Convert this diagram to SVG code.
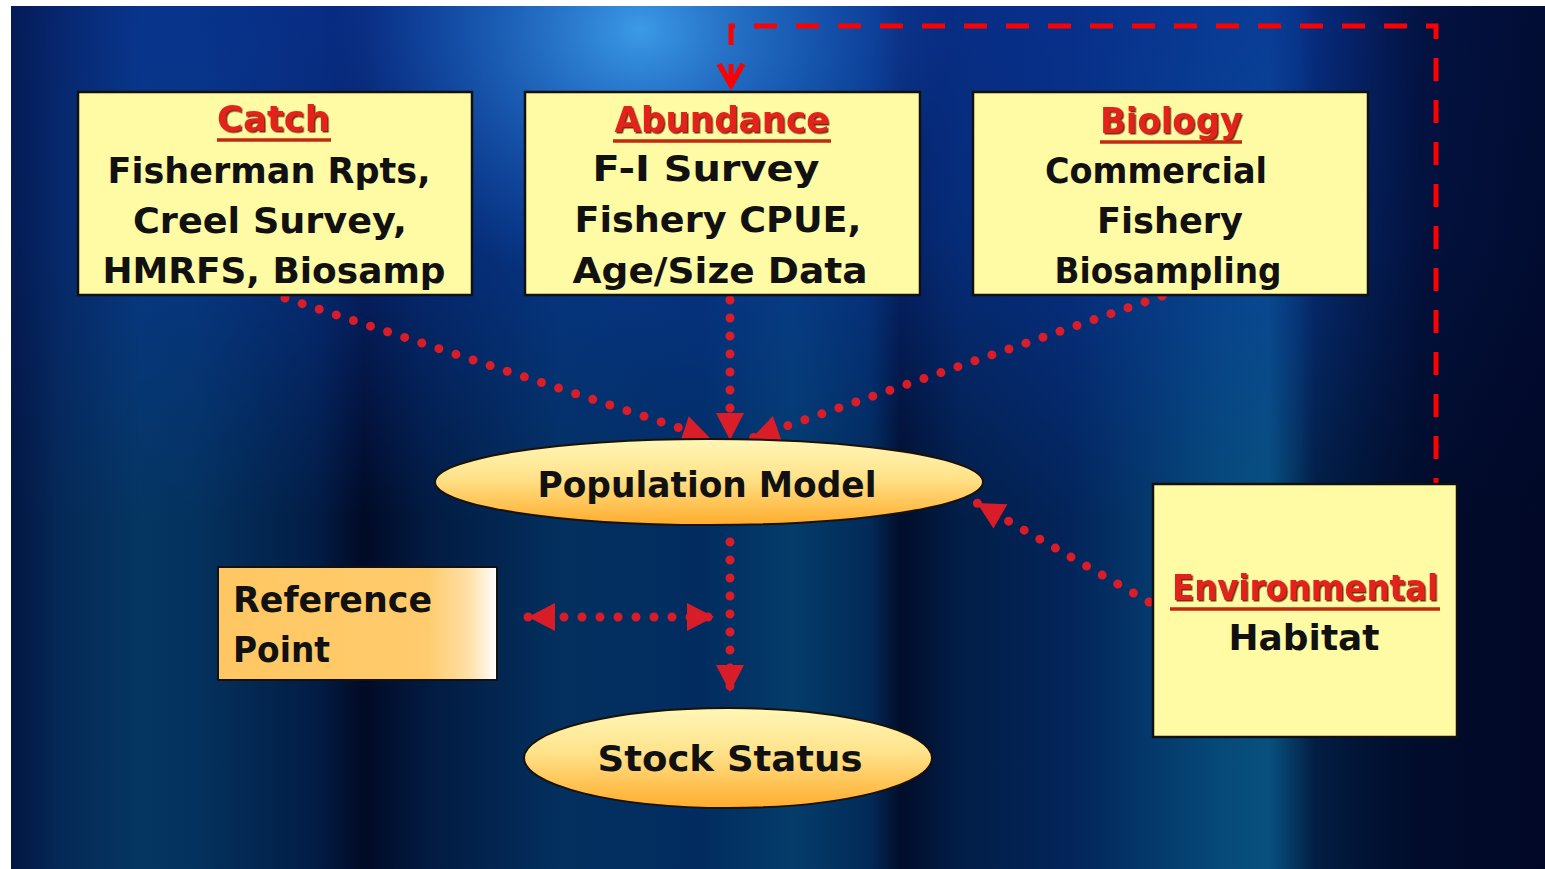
<svg xmlns="http://www.w3.org/2000/svg" width="1545" height="869" viewBox="0 0 1545 869">
  <defs>
    <linearGradient id="bgStripes" x1="11" y1="0" x2="1545" y2="0" gradientUnits="userSpaceOnUse">
      <stop offset="0" stop-color="#02244a"/>
      <stop offset="0.03" stop-color="#063a66"/>
      <stop offset="0.12" stop-color="#04325e"/>
      <stop offset="0.2" stop-color="#021c44"/>
      <stop offset="0.23" stop-color="#010a26"/>
      <stop offset="0.27" stop-color="#021a40"/>
      <stop offset="0.36" stop-color="#03305f"/>
      <stop offset="0.45" stop-color="#022c60"/>
      <stop offset="0.51" stop-color="#043c6a"/>
      <stop offset="0.56" stop-color="#022a58"/>
      <stop offset="0.58" stop-color="#010d2a"/>
      <stop offset="0.62" stop-color="#021e48"/>
      <stop offset="0.69" stop-color="#03245a"/>
      <stop offset="0.79" stop-color="#064a7a"/>
      <stop offset="0.82" stop-color="#08507e"/>
      <stop offset="0.85" stop-color="#022046"/>
      <stop offset="0.9" stop-color="#021838"/>
      <stop offset="1" stop-color="#010a25"/>
    </linearGradient>
    <linearGradient id="bgTop" x1="0" y1="6" x2="0" y2="520" gradientUnits="userSpaceOnUse">
      <stop offset="0" stop-color="#0a34a0" stop-opacity="0.7"/>
      <stop offset="0.45" stop-color="#0a3aa8" stop-opacity="0.5"/>
      <stop offset="1" stop-color="#0a3aa8" stop-opacity="0"/>
    </linearGradient>
    <linearGradient id="bgRightDark" x1="1300" y1="0" x2="1545" y2="0" gradientUnits="userSpaceOnUse">
      <stop offset="0" stop-color="#010828" stop-opacity="0"/>
      <stop offset="0.5" stop-color="#010828" stop-opacity="0.7"/>
      <stop offset="1" stop-color="#010828" stop-opacity="0.85"/>
    </linearGradient>
    <linearGradient id="bgLeftDark" x1="11" y1="0" x2="140" y2="0" gradientUnits="userSpaceOnUse">
      <stop offset="0" stop-color="#041040" stop-opacity="0.65"/>
      <stop offset="1" stop-color="#041040" stop-opacity="0"/>
    </linearGradient>
    <radialGradient id="glow" cx="640" cy="30" r="260" gradientTransform="translate(640 30) scale(1.2 1) translate(-640 -30)" gradientUnits="userSpaceOnUse">
      <stop offset="0" stop-color="#3fa0ec" stop-opacity="0.95"/>
      <stop offset="0.5" stop-color="#2a80d8" stop-opacity="0.5"/>
      <stop offset="1" stop-color="#1a60c8" stop-opacity="0"/>
    </radialGradient>
    <linearGradient id="ellFill" x1="0" y1="0" x2="0" y2="1">
      <stop offset="0" stop-color="#fff7b8"/>
      <stop offset="0.45" stop-color="#ffe28a"/>
      <stop offset="1" stop-color="#ffac2c"/>
    </linearGradient>
    <linearGradient id="refFill" x1="0" y1="0" x2="1" y2="0">
      <stop offset="0" stop-color="#ffc763"/>
      <stop offset="0.75" stop-color="#ffcb6c"/>
      <stop offset="0.9" stop-color="#ffe0a8"/>
      <stop offset="1" stop-color="#ffffff"/>
    </linearGradient>
    <filter id="titleShadow" x="-5%" y="-20%" width="110%" height="140%">
      <feDropShadow dx="1.5" dy="1.5" stdDeviation="0.6" flood-color="#6a1800" flood-opacity="0.9"/>
    </filter>
    <marker id="tri" markerUnits="userSpaceOnUse" markerWidth="32" markerHeight="32" viewBox="-30 -16 32 32" refX="0" refY="0" orient="auto-start-reverse">
      <path d="M0,0 L-27,-14 L-27,14 Z" fill="#ec1c24"/>
    </marker>
    <marker id="vee" markerUnits="userSpaceOnUse" markerWidth="40" markerHeight="40" viewBox="-30 -20 36 40" refX="0" refY="0" orient="auto-start-reverse">
      <path d="M-23,-12 L-2,0 L-23,12" fill="none" stroke="#ff0000" stroke-width="5.5" stroke-linejoin="miter"/>
    </marker>
    <style>
      .box { fill: #fffaa4; stroke: #111111; stroke-width: 2.5; }
      .ell { fill: url(#ellFill); stroke: #1a1208; stroke-width: 2; }
      .txt { font-family: "DejaVu Sans", "Liberation Sans", sans-serif; font-weight: bold; font-size: 36px; fill: #111111; }
      .ttl { font-family: "DejaVu Sans", "Liberation Sans", sans-serif; font-weight: bold; font-size: 36px; fill: #e3231a; filter: url(#titleShadow); }
      .ul { stroke: #c02a10; stroke-width: 3.5; }
      .dot { fill: none; stroke: #ec1c24; stroke-width: 9; stroke-dasharray: 0 18; stroke-linecap: round; opacity: 0.92; }
      .dash { fill: none; stroke: #ff0000; stroke-width: 5; stroke-dasharray: 23 19; }
    </style>
  </defs>

  <!-- background -->
  <rect x="0" y="0" width="1545" height="869" fill="#ffffff"/>
  <g id="background">
    <rect x="11" y="6" width="1534" height="863" fill="url(#bgStripes)"/>
    <rect x="11" y="6" width="1534" height="863" fill="url(#bgTop)"/>
    <rect x="11" y="6" width="1534" height="863" fill="url(#glow)"/>
    <rect x="11" y="6" width="1534" height="863" fill="url(#bgRightDark)"/>
    <rect x="11" y="6" width="1534" height="863" fill="url(#bgLeftDark)"/>
  </g>

  <!-- connectors -->
  <g id="connectors">
    <path class="dash" d="M731,87 V26 H1436 V490" marker-start="url(#vee)"/>
    <path class="dot" d="M285,298 L710,438" marker-end="url(#tri)"/>
    <path class="dot" d="M730,300 L730,440" marker-end="url(#tri)"/>
    <path class="dot" d="M1162,296 L752,438" marker-end="url(#tri)"/>
    <path class="dot" d="M1149,602 L977,503" marker-end="url(#tri)"/>
    <path class="dot" d="M730,542 L730,692" marker-end="url(#tri)"/>
    <path class="dot" d="M528,617 L714,617" marker-start="url(#tri)" marker-end="url(#tri)"/>
  </g>

  <!-- nodes -->
  <g id="catch">
    <rect class="box" x="78" y="92" width="394" height="203"/>
    <text class="ttl" x="273.5" y="131" text-anchor="middle" textLength="113" lengthAdjust="spacingAndGlyphs">Catch</text>
    <line class="ul" x1="217" y1="140" x2="331" y2="140"/>
    <text class="txt" x="269" y="183" text-anchor="middle" textLength="323" lengthAdjust="spacingAndGlyphs">Fisherman Rpts,</text>
    <text class="txt" x="270" y="233" text-anchor="middle" textLength="274" lengthAdjust="spacingAndGlyphs">Creel Survey,</text>
    <text class="txt" x="274" y="283" text-anchor="middle" textLength="343" lengthAdjust="spacingAndGlyphs">HMRFS, Biosamp</text>
  </g>

  <g id="abundance">
    <rect class="box" x="525" y="92" width="395" height="203"/>
    <text class="ttl" x="722" y="132" text-anchor="middle" textLength="215" lengthAdjust="spacingAndGlyphs">Abundance</text>
    <line class="ul" x1="613" y1="141" x2="831" y2="141"/>
    <text class="txt" x="706" y="181" text-anchor="middle" textLength="227" lengthAdjust="spacingAndGlyphs">F-I Survey</text>
    <text class="txt" x="718" y="232" text-anchor="middle" textLength="287" lengthAdjust="spacingAndGlyphs">Fishery CPUE,</text>
    <text class="txt" x="720" y="283" text-anchor="middle" textLength="295" lengthAdjust="spacingAndGlyphs">Age/Size Data</text>
  </g>

  <g id="biology">
    <rect class="box" x="973" y="92" width="395" height="203"/>
    <text class="ttl" x="1171" y="133" text-anchor="middle" textLength="142" lengthAdjust="spacingAndGlyphs">Biology</text>
    <line class="ul" x1="1100" y1="142" x2="1242" y2="142"/>
    <text class="txt" x="1156" y="183" text-anchor="middle" textLength="222" lengthAdjust="spacingAndGlyphs">Commercial</text>
    <text class="txt" x="1170" y="233" text-anchor="middle" textLength="146" lengthAdjust="spacingAndGlyphs">Fishery</text>
    <text class="txt" x="1168" y="283" text-anchor="middle" textLength="227" lengthAdjust="spacingAndGlyphs">Biosampling</text>
  </g>

  <g id="population-model">
    <ellipse class="ell" cx="709" cy="482" rx="274" ry="43"/>
    <text class="txt" x="707" y="497" text-anchor="middle" textLength="339" lengthAdjust="spacingAndGlyphs">Population Model</text>
  </g>

  <g id="reference-point">
    <rect x="218" y="567" width="279" height="113" fill="url(#refFill)" stroke="#111111" stroke-width="2"/>
    <text class="txt" x="233" y="612" textLength="199" lengthAdjust="spacingAndGlyphs">Reference</text>
    <text class="txt" x="233" y="662" textLength="97" lengthAdjust="spacingAndGlyphs">Point</text>
  </g>

  <g id="stock-status">
    <ellipse class="ell" cx="728" cy="758" rx="204" ry="50"/>
    <text class="txt" x="730" y="771" text-anchor="middle" textLength="265" lengthAdjust="spacingAndGlyphs">Stock Status</text>
  </g>

  <g id="environmental">
    <rect class="box" x="1153" y="484" width="304" height="253" stroke-width="2"/>
    <text class="ttl" x="1305" y="600" text-anchor="middle" textLength="266" lengthAdjust="spacingAndGlyphs">Environmental</text>
    <line class="ul" x1="1170" y1="609" x2="1440" y2="609"/>
    <text class="txt" x="1304" y="650" text-anchor="middle" textLength="151" lengthAdjust="spacingAndGlyphs">Habitat</text>
  </g>
</svg>
